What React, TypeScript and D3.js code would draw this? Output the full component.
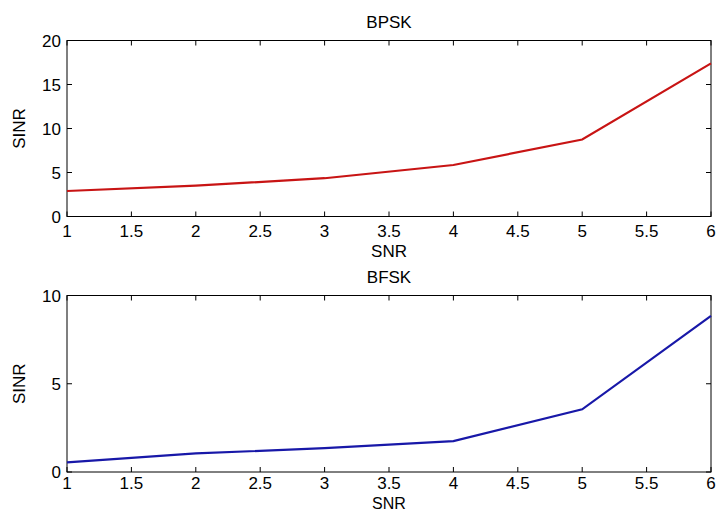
import { useEffect, useRef } from "react";
import * as d3 from "d3";

const snr = [1, 2, 3, 4, 5, 6];
const bpskSinr = [2.9, 3.5, 4.35, 5.85, 8.75, 17.4];
const bfskSinr = [0.55, 1.05, 1.35, 1.75, 3.55, 8.85];
const xTicks = [1, 1.5, 2, 2.5, 3, 3.5, 4, 4.5, 5, 5.5, 6];
const bpskYTicks = [0, 5, 10, 15, 20];
const bfskYTicks = [0, 5, 10];

const App = () => {
  const ref = useRef<SVGSVGElement>(null);

  useEffect(() => {
    const svg = d3.select(ref.current);
    svg.selectAll("*").remove();

    const font = "'Liberation Sans', Arial, sans-serif";
    const fs = 17;
    const left = 67, right = 711;

    // one MATLAB-style subplot
    const drawPanel = (top: number, bottom: number, title: string, vals: number[], yMax: number, yTicks: number[], color: string, tickY: number, labelY: number, labelFs: number) => {
      const x = d3.scaleLinear().domain([1, 6]).range([left, right]);
      const y = d3.scaleLinear().domain([0, yMax]).range([bottom, top]);
      const g = svg.append("g");

      g.append("rect")
        .attr("x", left).attr("y", top)
        .attr("width", right - left).attr("height", bottom - top)
        .attr("fill", "white").attr("stroke", "black").attr("stroke-width", 1);

      // ticks inside the box, on all four sides
      const tk = 5;
      xTicks.forEach((t) => {
        g.append("line").attr("x1", x(t)).attr("x2", x(t)).attr("y1", bottom).attr("y2", bottom - tk).attr("stroke", "black");
        g.append("line").attr("x1", x(t)).attr("x2", x(t)).attr("y1", top).attr("y2", top + tk).attr("stroke", "black");
        g.append("text").attr("x", x(t)).attr("y", tickY)
          .attr("text-anchor", "middle").attr("font-family", font).attr("font-size", fs)
          .text(String(t));
      });
      yTicks.forEach((t) => {
        g.append("line").attr("x1", left).attr("x2", left + tk).attr("y1", y(t)).attr("y2", y(t)).attr("stroke", "black");
        g.append("line").attr("x1", right).attr("x2", right - tk).attr("y1", y(t)).attr("y2", y(t)).attr("stroke", "black");
        g.append("text").attr("x", left - 6).attr("y", y(t) + 6)
          .attr("text-anchor", "end").attr("font-family", font).attr("font-size", fs)
          .text(String(t));
      });

      const line = d3.line<number>()
        .x((d, i) => x(snr[i]))
        .y((d) => y(d));
      g.append("path")
        .datum(vals)
        .attr("fill", "none")
        .attr("stroke", color)
        .attr("stroke-width", 2.2)
        .attr("d", line);

      g.append("text").attr("x", (left + right) / 2).attr("y", top - 13)
        .attr("text-anchor", "middle").attr("font-family", font).attr("font-size", fs)
        .text(title);
      g.append("text").attr("x", (left + right) / 2).attr("y", labelY)
        .attr("text-anchor", "middle").attr("font-family", font).attr("font-size", labelFs)
        .text("SNR");
      g.append("text")
        .attr("transform", `translate(25, ${(top + bottom) / 2}) rotate(-90)`)
        .attr("text-anchor", "middle").attr("font-family", font).attr("font-size", fs)
        .text("SINR");
    };

    drawPanel(40.5, 216.5, "BPSK", bpskSinr, 20, bpskYTicks, "#c81414", 237, 257, 17);
    drawPanel(295.5, 472, "BFSK", bfskSinr, 10, bfskYTicks, "#1818a8", 489, 509, 16);
  }, []);

  return (
    <svg ref={ref} width={716} height={513}
      style={{ position: "absolute", left: 0, top: 0, background: "white" }} />
  );
};

export default App;
